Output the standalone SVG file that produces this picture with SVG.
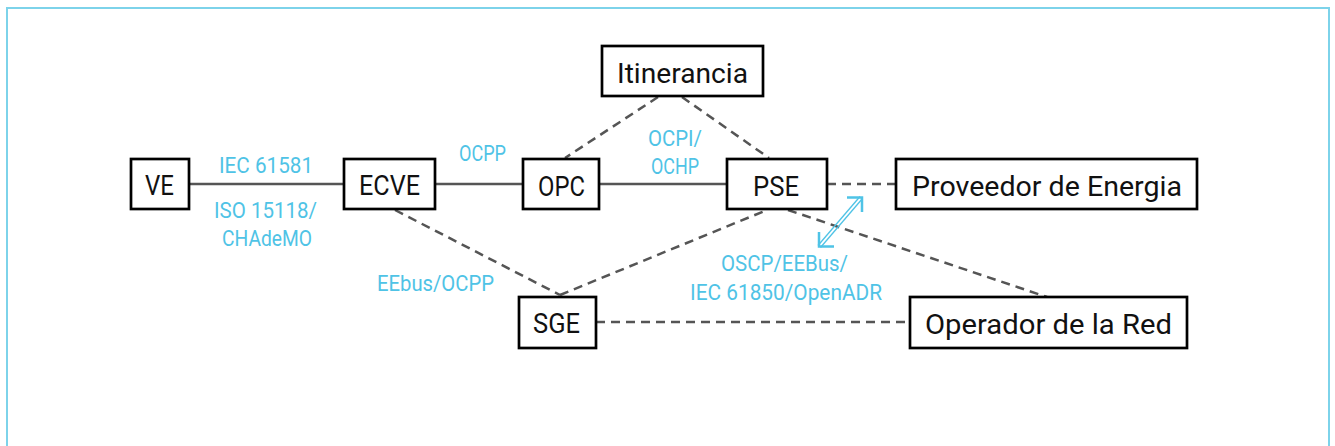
<svg xmlns="http://www.w3.org/2000/svg" width="1335" height="446" viewBox="0 0 1335 446">
<style>
.box{fill:#fff;stroke:#000;stroke-width:2.7}
.nt{font-family:Roboto,"Liberation Sans",sans-serif;font-size:28.5px;fill:#111;text-anchor:start}
.lt{font-family:Roboto,"Liberation Sans",sans-serif;font-size:22px;fill:#4fc3e6}
.solid{stroke:#555;stroke-width:2.5;fill:none}
.dash{stroke:#555;stroke-width:2.5;fill:none;stroke-dasharray:9,6}
.arr{stroke:#4fc3e6;stroke-width:1.3;fill:none}
.arrh{stroke:#4fc3e6;stroke-width:2.5;fill:none}
</style>
<rect x="0" y="0" width="1335" height="446" fill="#fff"/>
<rect x="7" y="8" width="1322" height="460" fill="none" stroke="#7dd3ea" stroke-width="2"/>
<g id="connectors">
<line class="solid" x1="189" y1="184" x2="344" y2="184"/>
<line class="solid" x1="435" y1="184" x2="523" y2="184"/>
<line class="solid" x1="599" y1="184" x2="727" y2="184"/>
<line class="dash" x1="827" y1="184" x2="896" y2="184"/>
<line class="dash" x1="658" y1="97" x2="565" y2="158"/>
<line class="dash" x1="682" y1="97" x2="769" y2="158"/>
<line class="dash" x1="395" y1="210" x2="560" y2="295"/>
<line class="dash" x1="560" y1="295" x2="767" y2="210"/>
<line class="dash" x1="788" y1="210" x2="1047" y2="297"/>
<line class="dash" x1="596" y1="322" x2="910" y2="322"/>
<g id="double-arrow">
<line class="arr" x1="820.5" y1="247.5" x2="862.5" y2="198.5"/>
<line class="arr" x1="818" y1="245.5" x2="860" y2="196.5"/>
<polyline class="arrh" points="847,197.5 862,197.5 862,212"/>
<polyline class="arrh" points="819,232 819,246.5 834,246.5"/>
</g>
</g>
<g id="node-ve"><rect class="box" x="131" y="159" width="58" height="50"/><text class="nt" x="145" y="195" textLength="29" lengthAdjust="spacingAndGlyphs">VE</text></g>
<g id="node-ecve"><rect class="box" x="344" y="159" width="91" height="50"/><text class="nt" x="359" y="195" textLength="61" lengthAdjust="spacingAndGlyphs">ECVE</text></g>
<g id="node-opc"><rect class="box" x="523" y="159" width="76" height="50"/><text class="nt" x="538" y="196" textLength="47" lengthAdjust="spacingAndGlyphs">OPC</text></g>
<g id="node-pse"><rect class="box" x="727" y="159" width="100" height="50"/><text class="nt" x="753" y="196" textLength="46" lengthAdjust="spacingAndGlyphs">PSE</text></g>
<g id="node-itinerancia"><rect class="box" x="602" y="46" width="161" height="50"/><text class="nt" x="617" y="83" textLength="131" lengthAdjust="spacingAndGlyphs">Itinerancia</text></g>
<g id="node-proveedor"><rect class="box" x="896" y="159" width="301" height="50"/><text class="nt" x="912" y="196" textLength="270" lengthAdjust="spacingAndGlyphs">Proveedor de Energia</text></g>
<g id="node-operador"><rect class="box" x="910" y="297" width="277" height="51"/><text class="nt" x="925" y="334" textLength="247" lengthAdjust="spacingAndGlyphs">Operador de la Red</text></g>
<g id="node-sge"><rect class="box" x="519" y="297" width="77" height="51"/><text class="nt" x="533" y="333" textLength="47" lengthAdjust="spacingAndGlyphs">SGE</text></g>
<g id="labels">
<text class="lt" x="219" y="173" textLength="94" lengthAdjust="spacingAndGlyphs">IEC 61581</text>
<text class="lt" x="214" y="218" textLength="103" lengthAdjust="spacingAndGlyphs">ISO 15118/</text>
<text class="lt" x="222" y="246" textLength="90" lengthAdjust="spacingAndGlyphs">CHAdeMO</text>
<text class="lt" x="459" y="161" textLength="47" lengthAdjust="spacingAndGlyphs">OCPP</text>
<text class="lt" x="648" y="146" textLength="54" lengthAdjust="spacingAndGlyphs">OCPI/</text>
<text class="lt" x="651" y="174" textLength="48" lengthAdjust="spacingAndGlyphs">OCHP</text>
<text class="lt" x="377" y="291" textLength="117" lengthAdjust="spacingAndGlyphs">EEbus/OCPP</text>
<text class="lt" x="721" y="271" textLength="127" lengthAdjust="spacingAndGlyphs">OSCP/EEBus/</text>
<text class="lt" x="690" y="300" textLength="192" lengthAdjust="spacingAndGlyphs">IEC 61850/OpenADR</text>
</g>
</svg>
